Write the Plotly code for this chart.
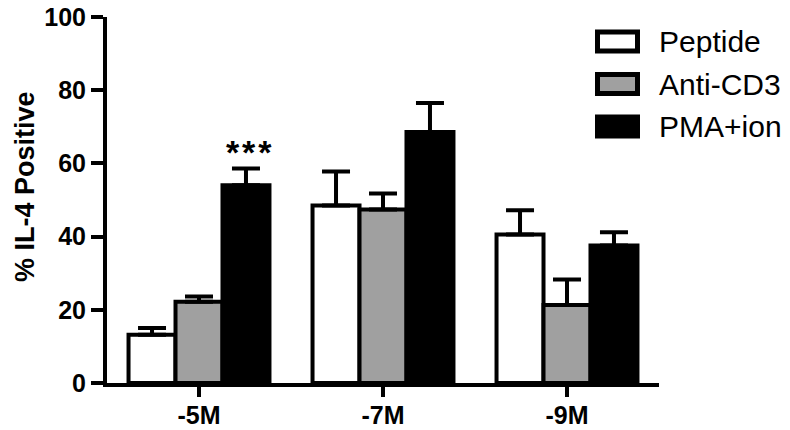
import plotly.graph_objects as go

# concentrations on the x axis
doses = ["-5M", "-7M", "-9M"]

# mean % IL-4 positive per stimulus
peptide = [13.2, 48.5, 40.6]
anti_cd3 = [22.2, 47.4, 21.3]
pma_ion = [54.0, 68.6, 37.6]

# upper error (SEM)
peptide_err = [1.8, 9.3, 6.6]
anti_cd3_err = [1.4, 4.4, 7.0]
pma_ion_err = [4.6, 7.9, 3.6]

y_ticks = [0, 20, 40, 60, 80, 100]

FONT = "Liberation Sans, Arial, sans-serif"
# page body adds an 8px margin, so the figure is 8px smaller than the window
OFF = 8
W, H = 790 - OFF, 430 - OFF
L, R, T, B = 99, 131, 9, 47

series = [
    ("Peptide", peptide, peptide_err, "white"),
    ("Anti-CD3", anti_cd3, anti_cd3_err, "#a0a0a0"),
    ("PMA+ion", pma_ion, pma_ion_err, "black"),
]

fig = go.Figure()
for name, vals, err, color in series:
    fig.add_trace(go.Bar(
        x=doses, y=vals, name=name,
        marker=dict(color=color, line=dict(color="black", width=4)),
        error_y=dict(type="data", symmetric=False, array=err,
                     arrayminus=[0] * len(err),
                     color="black", thickness=4, width=14),
        showlegend=False,
    ))


# window pixel -> paper helpers for the hand-made legend
def px(x):
    return (x - OFF - L) / (W - L - R)


def py(y):
    return (H - B - (y - OFF)) / (H - T - B)


shapes = []
annotations = []
for i, (name, _, _, color) in enumerate(series):
    yc = 41.5 + i * 42.5
    shapes.append(dict(type="rect", xref="paper", yref="paper",
                       x0=px(597.5), x1=px(637.5),
                       y0=py(yc - 9.5), y1=py(yc + 9.5),
                       fillcolor=color, line=dict(color="black", width=5)))
    annotations.append(dict(xref="paper", yref="paper", x=px(657), y=py(yc),
                            text=name, showarrow=False, xanchor="left",
                            yanchor="middle",
                            font=dict(family=FONT, size=30, color="black")))

# significance marker over -5M PMA+ion
annotations.append(dict(x=0.27, y=63.2, xref="x", yref="y",
                        text="*\u200a*\u200a*",
                        showarrow=False, yanchor="middle",
                        font=dict(family=FONT, size=34, color="black",
                                  weight="bold")))

# y axis title
annotations.append(dict(xref="paper", yref="paper", x=px(25), y=py(187),
                        text="% IL-4 Positive", textangle=-90,
                        showarrow=False, xanchor="center", yanchor="middle",
                        font=dict(family=FONT, size=27, color="black",
                                  weight="bold")))

fig.update_layout(
    width=W, height=H,
    margin=dict(l=L, r=R, t=T, b=B, autoexpand=False),
    plot_bgcolor="white", paper_bgcolor="white",
    barmode="group", bargap=0.234, bargroupgap=0,
    shapes=shapes, annotations=annotations,
    font=dict(family=FONT, color="black"),
)
fig.update_xaxes(
    range=[-0.5, 2.5], showline=True, linewidth=4, linecolor="black",
    ticks="outside", ticklen=10, tickwidth=4, tickcolor="black",
    tickfont=dict(family=FONT, size=25, weight="bold"),
    showgrid=False, zeroline=False, automargin=False,
    ticklabeloverflow="allow", ticklabelstandoff=-3,
)
fig.update_yaxes(
    range=[0, 100], tickvals=y_ticks, showline=True, linewidth=4,
    linecolor="black", ticks="outside", ticklen=12, tickwidth=4,
    tickcolor="black", tickfont=dict(family=FONT, size=25, weight="bold"),
    showgrid=False, zeroline=False, automargin=False,
    ticklabeloverflow="allow",
)

fig.write_html("out.html")
